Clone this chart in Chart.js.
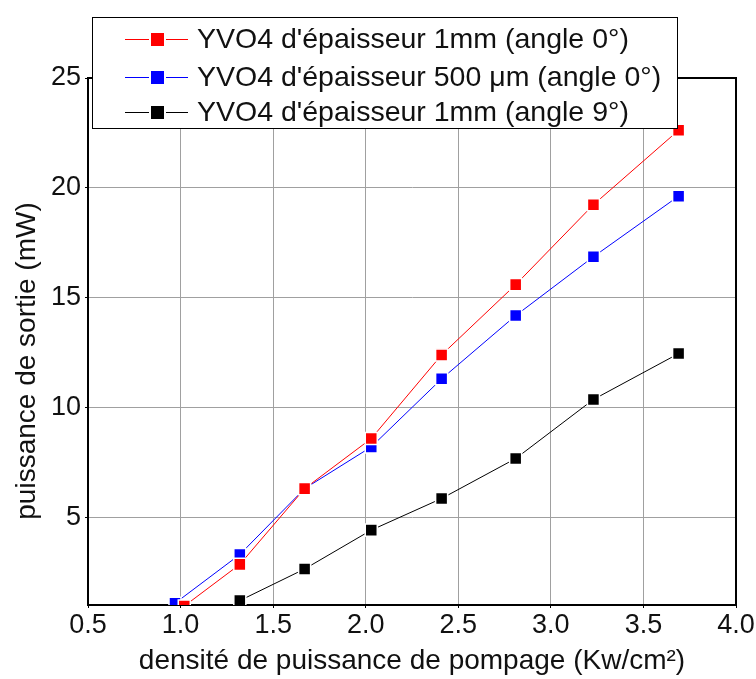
<!DOCTYPE html>
<html>
<head>
<meta charset="utf-8">
<script src="https://cdn.jsdelivr.net/npm/chart.js@4.4.1/dist/chart.umd.min.js"></script>
<style>
  html, body { margin: 0; padding: 0; background: #fff; }
  #wrap { width: 756px; height: 679px; position: relative; }
</style>
</head>
<body>
<div id="wrap"><canvas id="powerChart"></canvas></div>
<script>
// --- data ---
const seriesLabels = [
  "YVO4 d'épaisseur 1mm (angle 0°)",
  "YVO4 d'épaisseur 500 \u03bcm (angle 0°)",
  "YVO4 d'épaisseur 1mm (angle 9°)"
];
const seriesColors = ['#ff0000', '#0000ff', '#000000'];

const redX = [1.02, 1.32, 1.67, 2.03, 2.41, 2.81, 3.23, 3.69];
const redY = [0.95, 2.85, 6.3, 8.58, 12.39, 15.59, 19.23, 22.62];

const blueX = [0.97, 1.32, 1.67, 2.03, 2.41, 2.81, 3.23, 3.69];
const blueY = [1.08, 3.3, 6.3, 8.2, 11.3, 14.18, 16.86, 19.62];

const blackX = [1.32, 1.67, 2.03, 2.41, 2.81, 3.23, 3.69];
const blackY = [1.2, 2.64, 4.41, 5.85, 7.67, 10.36, 12.45];

const xTicks = [0.5, 1.0, 1.5, 2.0, 2.5, 3.0, 3.5, 4.0];
const yTicks = [5, 10, 15, 20, 25];

const xTitle = 'densité de puissance de pompage (Kw/cm²)';
const yTitle = 'puissance de sortie (mW)';

const FONT = "'Liberation Sans', Arial, sans-serif";

function toPoints(xs, ys) {
  return xs.map((x, i) => ({ x: x, y: ys[i] }));
}

function makeSet(i, xs, ys) {
  return {
    label: seriesLabels[i],
    data: toPoints(xs, ys),
    borderColor: seriesColors[i],
    backgroundColor: seriesColors[i],
    borderWidth: 1,
    pointStyle: 'rect',
    pointRadius: 8.5,
    pointHoverRadius: 8.5,
    pointBorderColor: '#fff',
    pointBorderWidth: 1.5,
    pointBackgroundColor: seriesColors[i],
    tension: 0
  };
}

// frame, y title and the boxed legend drawn on top of the plot
const framePlugin = {
  id: 'frame',
  afterDatasetsDraw(chart) {
    const { ctx, chartArea: a } = chart;
    ctx.save();
    ctx.strokeStyle = '#000';
    ctx.lineWidth = 2;
    ctx.beginPath();
    ctx.moveTo(a.left, a.top);
    ctx.lineTo(a.right, a.top);
    ctx.lineTo(a.right, a.bottom);
    ctx.stroke();

    // y axis title
    ctx.fillStyle = '#111';
    ctx.font = '28px ' + FONT;
    ctx.textAlign = 'center';
    ctx.textBaseline = 'middle';
    ctx.translate(27, 361);
    ctx.rotate(-Math.PI / 2);
    ctx.fillText(yTitle, 0, 0);
    ctx.restore();

    // legend box
    ctx.save();
    const bx = 92, by = 17, bw = 585, bh = 111;
    ctx.fillStyle = '#fff';
    ctx.fillRect(bx, by, bw, bh);
    ctx.strokeStyle = '#000';
    ctx.lineWidth = 1;
    ctx.strokeRect(bx + 0.5, by + 0.5, bw, bh);
    const rows = [39, 77, 112];
    ctx.font = '28.5px ' + FONT;
    ctx.textBaseline = 'middle';
    ctx.textAlign = 'left';
    rows.forEach((ry, i) => {
      ctx.strokeStyle = seriesColors[i];
      ctx.beginPath();
      ctx.moveTo(125, ry + 0.5);
      ctx.lineTo(188, ry + 0.5);
      ctx.stroke();
      ctx.fillStyle = '#fff';
      ctx.fillRect(149, ry - 8, 17, 17);
      ctx.fillStyle = seriesColors[i];
      ctx.fillRect(151, ry - 6, 13, 13);
      ctx.fillStyle = '#111';
      ctx.fillText(seriesLabels[i], 197, ry + 1);
    });
    ctx.restore();
  }
};

const ctx = document.getElementById('powerChart');
new Chart(ctx, {
  type: 'line',
  data: {
    datasets: [
      makeSet(0, redX, redY),
      makeSet(1, blueX, blueY),
      makeSet(2, blackX, blackY)
    ]
  },
  options: {
    responsive: true,
    maintainAspectRatio: false,
    animation: false,
    events: [],
    layout: { padding: { top: 78, right: 20, left: 0, bottom: 0 } },
    plugins: {
      legend: { display: false },
      tooltip: { enabled: false }
    },
    scales: {
      x: {
        type: 'linear',
        min: 0.5,
        max: 4.0,
        afterBuildTicks: (s) => { s.ticks = xTicks.map(v => ({ value: v })); },
        afterFit: (s) => { s.height = 74; },
        border: { color: '#000', width: 2 },
        grid: { color: '#a0a0a0', lineWidth: 1, drawTicks: true, tickLength: 3, tickColor: '#000' },
        ticks: {
          color: '#111',
          font: { size: 27, family: FONT },
          padding: 1,
          maxRotation: 0,
          callback: (v) => v.toFixed(1)
        },
        title: {
          display: true,
          text: xTitle,
          color: '#111',
          font: { size: 28, family: FONT },
          padding: { top: 0, bottom: 1 }
        }
      },
      y: {
        type: 'linear',
        min: 1,
        max: 25,
        afterBuildTicks: (s) => { s.ticks = yTicks.map(v => ({ value: v })); },
        afterFit: (s) => { s.width = 88; },
        border: { color: '#000', width: 2 },
        grid: { color: '#a0a0a0', lineWidth: 1, drawTicks: true, tickLength: 3, tickColor: '#000' },
        ticks: {
          color: '#111',
          font: { size: 27, family: FONT },
          padding: 4
        }
      }
    }
  },
  plugins: [framePlugin]
});
</script>
</body>
</html>
